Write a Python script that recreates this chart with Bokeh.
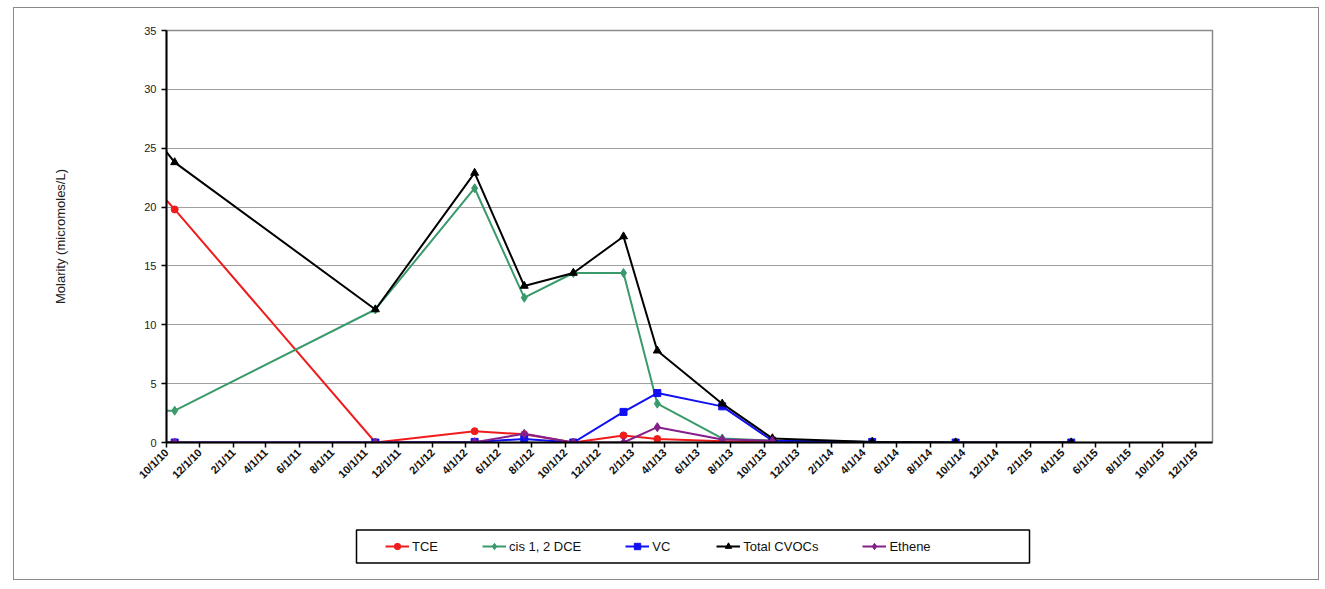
import math
import pandas as pd
from bokeh.plotting import figure
from bokeh.layouts import column
from bokeh.models import (Range1d, FixedTicker, Legend, LegendItem, LinearAxis,
                          BoxAnnotation)
from bokeh.embed import file_html
from bokeh.resources import INLINE

nan = float("nan")

# ---- data ----
sample_dates = ["2010-09-15", "2010-10-16", "2011-10-19", "2012-04-18",
                "2012-07-18", "2012-10-16", "2013-01-16", "2013-03-19",
                "2013-07-16", "2013-10-16", "2014-04-17", "2014-09-17",
                "2015-04-17"]
tce = [21.4, 19.8, 0.0, 0.96, 0.7, 0.0, 0.6, 0.3, 0.1, 0.0, 0.0, nan, nan]
dce = [2.7, 2.7, 11.3, 21.6, 12.3, 14.4, 14.4, 3.3, 0.35, 0.15, 0.05, nan, nan]
vc = [0.0, 0.0, 0.0, 0.05, 0.3, 0.0, 2.6, 4.2, 3.07, 0.15, 0.05, 0.0, 0.0]
total = [25.6, 23.8, 11.3, 22.9, 13.3, 14.4, 17.5, 7.8, 3.3, 0.35, 0.05, 0.0, 0.0]
ethene = [0.0, 0.0, 0.0, 0.03, 0.74, 0.0, 0.0, 1.3, 0.25, 0.15, nan, nan, nan]

tick_labels = ["10/1/10", "12/1/10", "2/1/11", "4/1/11", "6/1/11", "8/1/11",
               "10/1/11", "12/1/11", "2/1/12", "4/1/12", "6/1/12", "8/1/12",
               "10/1/12", "12/1/12", "2/1/13", "4/1/13", "6/1/13", "8/1/13",
               "10/1/13", "12/1/13", "2/1/14", "4/1/14", "6/1/14", "8/1/14",
               "10/1/14", "12/1/14", "2/1/15", "4/1/15", "6/1/15", "8/1/15",
               "10/1/15", "12/1/15"]
y_ticks = [0, 5, 10, 15, 20, 25, 30, 35]
x_start = "2010-10-01"
x_end = "2016-01-01"
y_title = "Molarity (micromoles/L)"

series_names = ["TCE", "cis 1, 2 DCE", "VC", "Total CVOCs", "Ethene"]
series_values = [tce, dce, vc, total, ethene]
series_colors = ["#f01c1c", "#3a9a6c", "#1010f0", "#000000", "#85208a"]
series_markers = ["circle", "diamond", "square", "triangle", "diamond"]
series_sizes = [7, 9, 7, 8, 9]


def to_ms(s, fmt=None):
    ts = pd.to_datetime(s, format=fmt)
    return float(ts.value // 10**6)


xs = [to_ms(d) for d in sample_dates]
tick_ms = [to_ms(t, "%m/%d/%y") for t in tick_labels]

FONT = "Liberation Sans"
W = 1304
BL, FW = 152, 1046          # left border and frame width (px)
BR = W - BL - FW

p = figure(width=W, height=512, x_axis_type="datetime",
           x_range=Range1d(to_ms(x_start), to_ms(x_end)),
           y_range=Range1d(0, 35),
           output_backend="svg", toolbar_location=None,
           min_border_left=BL, min_border_right=BR,
           min_border_top=22, min_border_bottom=78)

p.background_fill_color = "white"
p.border_fill_color = "white"
p.outline_line_color = "#8a8a8a"
p.outline_line_width = 1.5

# y axis
yt = FixedTicker(ticks=y_ticks)
p.yaxis.ticker = yt
p.ygrid.ticker = yt
p.ygrid.grid_line_color = "#a0a0a0"
p.ygrid.grid_line_width = 1
p.xgrid.visible = False
p.yaxis.axis_line_color = "black"
p.yaxis.axis_line_width = 2
p.yaxis.major_tick_line_color = "black"
p.yaxis.major_tick_line_width = 1.5
p.yaxis.major_tick_out = 5
p.yaxis.major_tick_in = 0
p.yaxis.minor_tick_line_color = None
p.yaxis.major_label_text_font = FONT
p.yaxis.major_label_text_font_size = "11px"
p.yaxis.major_label_text_color = "#222222"
p.yaxis.major_label_standoff = 5

title_axis = LinearAxis(ticker=FixedTicker(ticks=[]),
                        axis_label=y_title,
                        axis_label_text_font=FONT,
                        axis_label_text_font_size="13px",
                        axis_label_text_font_style="normal",
                        axis_label_text_color="#222222",
                        axis_label_standoff=74,
                        axis_line_color=None, major_tick_line_color=None,
                        minor_tick_line_color=None, major_tick_out=0,
                        major_label_standoff=0)
p.add_layout(title_axis, "left")

# x axis
xt = FixedTicker(ticks=tick_ms)
p.xaxis.ticker = xt
p.xaxis.major_label_overrides = dict(zip(tick_ms, tick_labels))
p.xaxis.major_label_orientation = math.pi / 4
p.xaxis.major_label_text_font = FONT
p.xaxis.major_label_text_font_size = "11px"
p.xaxis.major_label_text_font_style = "bold"
p.xaxis.major_label_text_color = "#111111"
p.xaxis.major_label_standoff = 3
p.xaxis.axis_line_color = "black"
p.xaxis.axis_line_width = 2
p.xaxis.major_tick_line_color = "black"
p.xaxis.major_tick_line_width = 1.5
p.xaxis.major_tick_out = 5
p.xaxis.major_tick_in = 0
p.xaxis.minor_tick_line_color = None

# legend strip below the chart (pixel-like ranges inside its frame)
LH = 59
lf = figure(width=W, height=LH, x_range=Range1d(0, FW), y_range=Range1d(0, LH),
            x_axis_type=None, y_axis_type=None,
            output_backend="svg", toolbar_location=None,
            min_border_left=BL, min_border_right=BR,
            min_border_top=0, min_border_bottom=0)
lf.xgrid.visible = False
lf.ygrid.visible = False
lf.outline_line_color = None
lf.background_fill_color = "white"
lf.border_fill_color = "white"
lf.add_layout(BoxAnnotation(left=190, right=863, top=49.5, bottom=16.5,
                            fill_alpha=0, line_color="black", line_alpha=1.0,
                            line_width=1.5))

items = []
for name, vals, col, mk, sz in zip(series_names, series_values, series_colors,
                                    series_markers, series_sizes):
    p.line(xs, vals, line_color=col, line_width=2)
    p.scatter(xs, vals, marker=mk, size=sz, fill_color=col, line_color=col)
    # legend swatch renderers (kept off-screen)
    lr = lf.line([-100, -90], [-100, -100], line_color=col, line_width=2)
    sr = lf.scatter([-100], [-100], marker=mk, size=sz, fill_color=col,
                    line_color=col)
    items.append(LegendItem(label=name, renderers=[lr, sr]))

legend = Legend(items=items, orientation="horizontal", location=(219, 25),
                label_text_font=FONT, label_text_font_size="13px",
                label_text_color="#111111",
                glyph_width=24, glyph_height=16, label_standoff=3,
                spacing=44, padding=0, margin=0,
                border_line_alpha=0, background_fill_alpha=0)
lf.add_layout(legend, "center")

layout = column(p, lf, spacing=0,
                styles={"border": "1.5px solid #8a8a8a",
                        "margin-left": "13px", "margin-top": "7px",
                        "background-color": "white"})

open("out.html", "w").write(file_html(layout, INLINE))
